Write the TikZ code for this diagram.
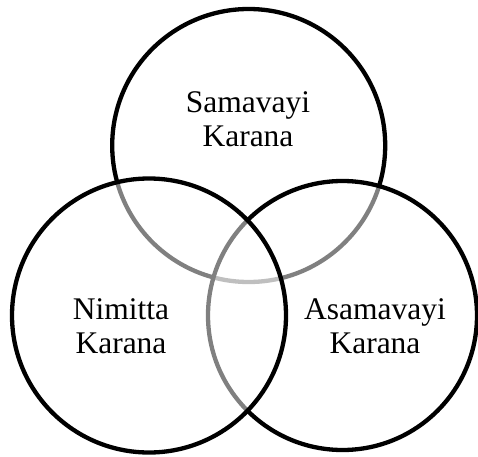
\documentclass[tikz,border=0pt]{standalone}
\usepackage{fontspec}
\setmainfont{Liberation Serif}
\begin{document}
\begin{tikzpicture}[x=1pt,y=1pt,
  ring/.style={draw=black,line width=4.3pt,fill=white,fill opacity=0.5,draw opacity=1},
  lbl/.style={align=center,font=\fontsize{31.5}{34}\selectfont,text=black,inner sep=0pt}]
\useasboundingbox (0,0) rectangle (478,456);
\fill[white] (0,0) rectangle (478,456);
\path[ring] (248.7,310.5) circle (136.5);
\path[ring] (342.5,140.5) circle (134.5);
\path[ring] (149,140.5) circle (137);
\node[lbl] (sam) at (248,456-119) {Samavayi\\Karana};
\node[lbl] (nim) at (121,456-326) {Nimitta\\Karana};
\node[lbl] (asa) at (375,456-326) {Asamavayi\\Karana};
\end{tikzpicture}
\end{document}
